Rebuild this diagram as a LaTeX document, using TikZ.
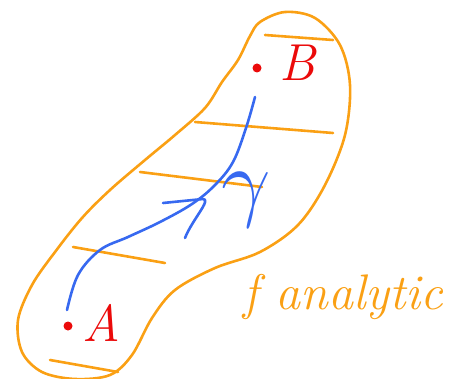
\RequirePackage{fix-cm}
\documentclass[tikz,border=0pt]{standalone}
\usepackage{tikz}
\usetikzlibrary{calc}
\usepackage{xcolor}
\definecolor{penorange}{RGB}{250,160,20}
\definecolor{penblue}{RGB}{55,105,240}
\definecolor{penred}{RGB}{235,10,10}
\tikzset{
  pen/.style={line width=2.6pt,line cap=round,line join=round},
  dot/.style={circle,fill=penred,inner sep=0pt,minimum size=9pt},
  letter/.style={text=penred,font=\fontsize{52}{52}\selectfont\itshape}
}

\begin{document}
\begin{tikzpicture}[x=1pt,y=-1pt]
\useasboundingbox (0,0) rectangle (457,379);
% region
\draw[pen,penorange] plot[smooth cycle,tension=0.55] coordinates {
  (250,36) (238,60) (222,82) (205,108) (175,135) (145,160) (110,190)
  (82,218) (55,252) (32,285) (18,320) (22,352) (42,372) (75,379)
  (110,375) (132,355) (152,318) (175,290) (215,268) (260,252)
  (298,225) (325,185) (345,135) (350,85) (340,45) (315,18)
  (285,12) (260,22)};
\foreach \xa/\ya/\xb/\yb in {265/35/333/40, 195/122/333/133,
    140/172/262/187, 73/247/165/263, 50/360/118/372}
  \draw[pen,penorange] (\xa,\ya) -- (\xb,\yb);

% points
\node[dot] (dA) at (68,326) {};
\node[dot] (dB) at (257,68) {};
\node[letter] (lA) at (101,323) {A};
\node[letter] (lB) at (297,63) {B};

% path gamma
\coordinate (gs) at (67,310);
\coordinate (ge) at (255,97);
\draw[pen,penblue] plot[smooth,tension=0.6] coordinates {
  (gs) (78,275) (100,250) (128,237) (160,222) (192,204) (215,185)
  (233,162) (246,128) (ge)};
\draw[pen,penblue] (163,203) -- (203,199)
  .. controls (212,199) and (192,220) .. (185,238);
\node[text=penblue,font=\fontsize{88}{88}\selectfont] (gl) at (246,200) {$\gamma$};

% label
\node[text=penorange,font=\fontsize{50}{50}\selectfont\itshape] (fa) at (343,297) {f analytic};
\end{tikzpicture}
\end{document}
